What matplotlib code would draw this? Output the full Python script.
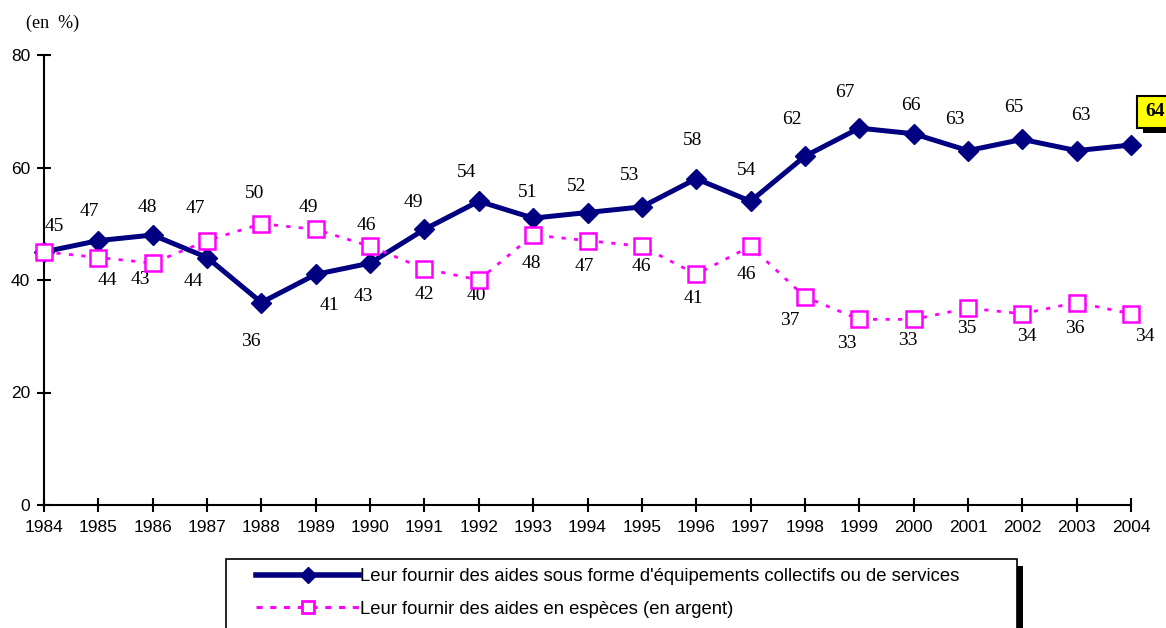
import matplotlib
matplotlib.use("Agg")
import matplotlib.pyplot as plt
import matplotlib.patheffects as pe
from matplotlib.lines import Line2D
from matplotlib.patches import Rectangle

years = list(range(1984, 2005))
equipements = [45, 47, 48, 44, 36, 41, 43, 49, 54, 51, 52, 53, 58, 54, 62, 67, 66, 63, 65, 63, 64]
especes = [45, 44, 43, 47, 50, 49, 46, 42, 40, 48, 47, 46, 41, 46, 37, 33, 33, 35, 34, 36, 34]
label_equip = "Leur fournir des aides sous forme d'équipements collectifs ou de services"
label_esp = "Leur fournir des aides en espèces (en argent)"

# label offsets in pixels (dx right, dy down)
EQ_DX = [10, -9, -5, -14, -11, 14, -7, -11, -12, -6, -11, -12, -4, -4, -13, -14, -3, -13, -8, 4, 24]
EQ_DY = [-25, -29, -28, 24, 39, 31, 33, -27, -29, -26, -26, -31, -38, -31, -37, -36, -28, -31, -32, -35, -33]
ES_DX = [None, 9, -12, -12, -7, -7, -4, 0, -2, -2, -3, 0, -3, -4, -15, -12, -6, -1, 5, -2, 14]
ES_DY = [None, 23, 16, -32, -30, -22, -21, 26, 16, 28, 26, 20, 24, 28, 24, 24, 21, 20, 23, 26, 23]

NAVY = "#000080"
PINK = "#FF00FF"
SERIF = "Liberation Serif"
SANS = "Liberation Sans"
PX = 0.72  # points per pixel at dpi 100

plt.rcParams["font.family"] = SANS

fig = plt.figure(figsize=(11.66, 6.28), dpi=100)
ax = fig.add_axes([44 / 1166, 1 - 505 / 628, 1087 / 1166, 450 / 628])

ax.plot(years, equipements, color=NAVY, lw=3.6, marker="D", markersize=10,
        markerfacecolor=NAVY, markeredgecolor=NAVY, clip_on=False, zorder=3)
ax.plot(years, especes, color=PINK, lw=2.0, linestyle=(0, (1.5, 3)), marker="s",
        markersize=11.5, markerfacecolor="white", markeredgecolor=PINK,
        markeredgewidth=1.8, clip_on=False, zorder=4)

for i, (x, v) in enumerate(zip(years, equipements)):
    if i == len(years) - 1:
        t = ax.annotate(str(v), (x, v), xytext=(EQ_DX[i] * PX, -EQ_DY[i] * PX),
                        textcoords="offset points", ha="center", va="center",
                        family=SERIF, fontsize=14, fontweight="bold",
                        annotation_clip=False,
                        bbox=dict(boxstyle="square,pad=0.4", fc="yellow",
                                  ec="black", lw=1.5))
        t.get_bbox_patch().set_path_effects(
            [pe.withSimplePatchShadow(offset=(4.3, -3.6), shadow_rgbFace="black", alpha=1)])
        continue
    ax.annotate(str(v), (x, v), xytext=(EQ_DX[i] * PX, -EQ_DY[i] * PX),
                textcoords="offset points", ha="center", va="center",
                family=SERIF, fontsize=14, annotation_clip=False)

for i, (x, v) in enumerate(zip(years, especes)):
    if ES_DX[i] is None:
        continue
    ax.annotate(str(v), (x, v), xytext=(ES_DX[i] * PX, -ES_DY[i] * PX),
                textcoords="offset points", ha="center", va="center",
                family=SERIF, fontsize=14, annotation_clip=False)

ax.set_xlim(1984, 2004)
ax.set_ylim(0, 80)
ax.set_xticks(years)
ax.set_yticks([0, 20, 40, 60, 80])
ax.tick_params(direction="inout", length=10, width=1.5, labelsize=12.5)
ax.tick_params(axis="y", pad=5)
ax.tick_params(axis="x", pad=6)
for side in ["top", "right"]:
    ax.spines[side].set_visible(False)
for side in ["left", "bottom"]:
    ax.spines[side].set_linewidth(1.5)

fig.text(26 / 1166, 1 - 23 / 628, "(en  %)", family=SERIF, fontsize=13,
         ha="left", va="center")

# legend box with a black shadow, cut by the bottom edge like the reference
W, H = 1166, 628
fig.patches.append(Rectangle((232 / W, -0.05), 791 / W, (H - 566) / H + 0.05,
                             transform=fig.transFigure, fc="black", ec="none", zorder=1))
fig.patches.append(Rectangle((226 / W, -0.05), 791 / W, (H - 559) / H + 0.05,
                             transform=fig.transFigure, fc="white", ec="black",
                             lw=1.2, zorder=2))

handles = [
    Line2D([], [], color=NAVY, lw=4.0, marker="D", markersize=8),
    Line2D([], [], color=PINK, lw=2.2, linestyle=(0, (2, 2.5)), marker="s",
           markersize=9, markerfacecolor="white", markeredgecolor=PINK, markeredgewidth=2),
]
leg = fig.legend(handles, [label_equip, label_esp], loc="upper left",
                 bbox_to_anchor=(256 / W, 1 - 568 / H), frameon=False,
                 fontsize=13.3, handlelength=5.6, handletextpad=0.05,
                 labelspacing=0.85, borderpad=0, borderaxespad=0, numpoints=1)
leg.set_zorder(3)

fig.savefig("out.png", dpi=100)
